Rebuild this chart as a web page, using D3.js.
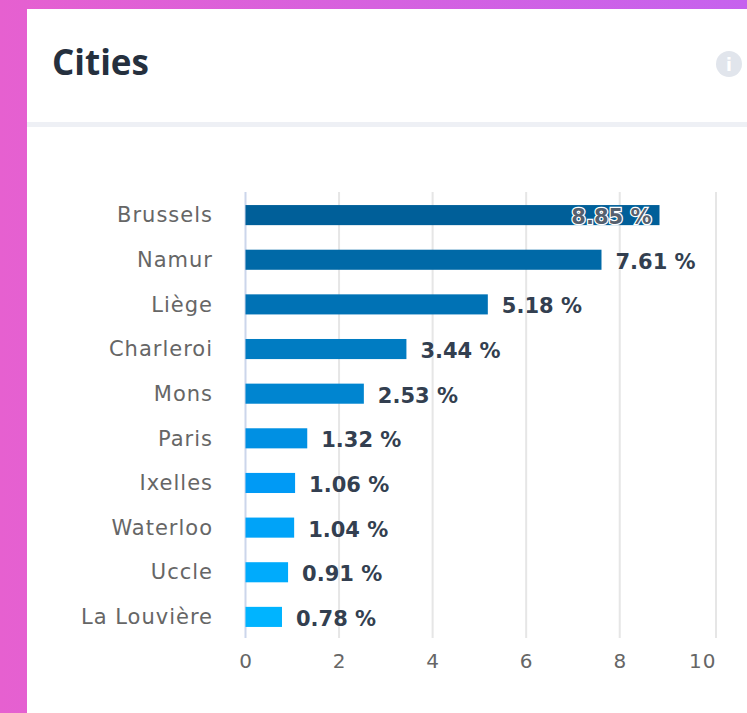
<!DOCTYPE html>
<html>
<head>
<meta charset="utf-8">
<script src="https://cdn.jsdelivr.net/npm/d3@7"></script>
<style>
html, body { margin: 0; padding: 0; background: #fff; }
svg { display: block; }
text { font-family: "DejaVu Sans", sans-serif; }
</style>
</head>
<body>
<div id="chart"></div>
<script>
const title = "Cities";
const cities = ["Brussels", "Namur", "Liège", "Charleroi", "Mons", "Paris", "Ixelles", "Waterloo", "Uccle", "La Louvière"];
const shares = [8.85, 7.61, 5.18, 3.44, 2.53, 1.32, 1.06, 1.04, 0.91, 0.78];
const xTicks = [0, 2, 4, 6, 8, 10];

const width = 747;
const height = 713;

const svg = d3.select("#chart").append("svg")
    .attr("width", width)
    .attr("height", height);

/* Pink frame and card */
const grad = svg.append("defs").append("linearGradient")
    .attr("id", "frame");
grad.append("stop").attr("offset", "0%").attr("stop-color", "#e660d0");
grad.append("stop").attr("offset", "100%").attr("stop-color", "#c662ee");

svg.append("rect")
    .attr("width", width)
    .attr("height", height)
    .attr("fill", "url(#frame)");

svg.append("rect")
    .attr("x", 27)
    .attr("y", 9)
    .attr("width", width - 27)
    .attr("height", height - 9)
    .attr("fill", "#fff");

/* Header */
svg.append("text")
    .attr("x", 52)
    .attr("y", 75)
    .attr("fill", "#25303e")
    .style("font-family", "'Open Sans', sans-serif")
    .style("font-size", "35px")
    .style("font-weight", 700)
    .text(title);

svg.append("circle")
    .attr("cx", 729)
    .attr("cy", 64)
    .attr("r", 13)
    .attr("fill", "#e1e5ec");

svg.append("text")
    .attr("x", 729)
    .attr("y", 71)
    .attr("text-anchor", "middle")
    .attr("fill", "#fff")
    .style("font-size", "17px")
    .style("font-weight", 700)
    .text("i");

svg.append("rect")
    .attr("x", 27)
    .attr("y", 122)
    .attr("width", width - 27)
    .attr("height", 5)
    .attr("fill", "#eef0f5");

/* Scales: the picture's bars run slightly short of its gridlines, hence the extra stop */
const xScale = d3.scaleLinear()
    .domain([0, 8.85, 10])
    .range([245.5, 659.5, 716]);

const yScale = d3.scaleBand()
    .domain(cities)
    .range([193, 639])
    .paddingInner(0.55)
    .paddingOuter(0.27);

const color = d3.scaleLinear()
    .domain([0, 4, 6, 9])
    .range(["#005f99", "#0085d0", "#009af5", "#00b4ff"]);

/* Gridlines */
svg.append("g")
    .selectAll("line")
    .data(xTicks).enter()
    .append("line")
    .attr("x1", d => xScale(d))
    .attr("x2", d => xScale(d))
    .attr("y1", 192)
    .attr("y2", 638)
    .attr("stroke", d => d === 0 ? "#ccd6eb" : "#e6e6e6")
    .attr("stroke-width", 2);

/* Axes */
const xAxis = d3.axisBottom(xScale).tickValues(xTicks).tickSize(0).tickPadding(0);
const yAxis = d3.axisLeft(yScale).tickSize(0).tickPadding(0);

const gx = svg.append("g")
    .attr("transform", "translate(0, 650)")
    .call(xAxis);
gx.select(".domain").remove();
gx.selectAll("text")
    .attr("fill", "#666")
    .attr("dy", "0.9em")
    .style("font-size", "20px")
    .style("letter-spacing", "1px");
// the last tick label stays inside the plot
gx.selectAll("text")
    .filter(d => d === 10)
    .attr("text-anchor", "end");

const gy = svg.append("g")
    .attr("transform", "translate(213, 0.5)")
    .call(yAxis);
gy.select(".domain").remove();
gy.selectAll("text")
    .attr("fill", "#666")
    .style("font-size", "21px")
    .style("letter-spacing", "1px");

/* Bars */
svg.append("g")
    .selectAll("rect")
    .data(shares).enter()
    .append("rect")
    .attr("x", xScale(0))
    .attr("y", (d, i) => yScale(cities[i]))
    .attr("width", d => xScale(d) - xScale(0))
    .attr("height", yScale.bandwidth())
    .attr("fill", (d, i) => color(i));

/* Value labels, the first one sits inside its bar */
svg.append("g")
    .selectAll("text")
    .data(shares).enter()
    .append("text")
    .attr("x", (d, i) => i === 0 ? xScale(d) - 8 : xScale(d) + 14)
    .attr("y", (d, i) => yScale(cities[i]) + yScale.bandwidth() / 2 + 1)
    .attr("dy", "0.38em")
    .attr("text-anchor", (d, i) => i === 0 ? "end" : "start")
    .attr("fill", (d, i) => i === 0 ? "#55606e" : "#333f50")
    .attr("stroke", "#fff")
    .attr("stroke-width", (d, i) => i === 0 ? 2.5 : 0.5)
    .attr("paint-order", "stroke")
    .style("font-size", "21px")
    .style("font-weight", 700)
    .text(d => d.toFixed(2) + " %");
</script>
</body>
</html>
